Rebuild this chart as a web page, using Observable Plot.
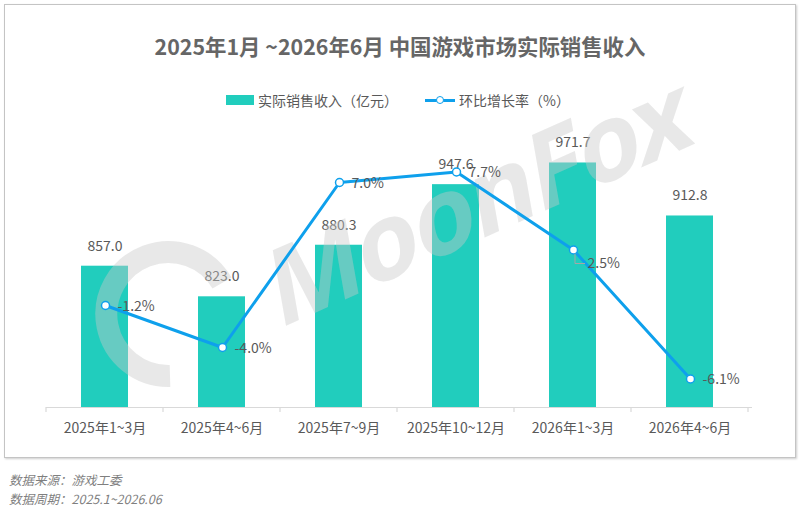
<!DOCTYPE html>
<html><head><meta charset="utf-8">
<script src="https://cdn.jsdelivr.net/npm/d3@7"></script>
<script src="https://cdn.jsdelivr.net/npm/@observablehq/plot@0.6"></script>
<style>
body{margin:0;background:#fff;font-family:"Noto Sans CJK SC","Noto Sans",sans-serif;}
#wrap{position:relative;width:800px;height:513px;overflow:hidden;}
#frame{position:absolute;left:4px;top:4px;width:790px;height:452px;border:1px solid #c4c4c4;box-shadow:1px 1px 2px rgba(0,0,0,0.2);}
#title{position:absolute;left:0;top:32px;width:800px;text-align:center;font-size:21.4px;font-weight:bold;color:#666;line-height:28px;}
#legend{position:absolute;left:0;top:90px;width:574px;padding-left:226px;height:20px;display:flex;justify-content:flex-start;align-items:center;font-size:14px;color:#595959;}
.sw{width:28px;height:10px;background:#21cdbd;margin-right:4px;}
.ln{position:relative;width:30px;height:10px;margin-left:27px;margin-right:4px;}
.ln:before{content:"";position:absolute;left:0;top:4px;width:30px;height:3px;background:#0ea0ec;}
.ln:after{content:"";position:absolute;left:11px;top:1px;width:6px;height:6px;border:1.5px solid #0ea0ec;border-radius:50%;background:#fff;}
.plot{position:absolute;left:0;top:120px;}
#wm{position:absolute;left:478px;top:196px;transform:translate(-50%,-50%) rotate(-24deg) skewX(-14deg);font-family:"Noto Sans",sans-serif;font-weight:bold;font-size:104px;color:rgba(200,200,200,0.42);white-space:nowrap;letter-spacing:-3px;}
#logo{position:absolute;left:0;top:0;}
.ft{position:absolute;left:9px;font-size:12.5px;line-height:16px;color:#7f7f7f;font-style:italic;}
</style></head>
<body><div id="wrap">
<div id="frame"></div>
<div id="title">2025年1月 ~2026年6月 中国游戏市场实际销售收入</div>
<div id="legend"><div class="sw"></div><span>实际销售收入（亿元）</span><div class="ln"></div><span>环比增长率（%）</span></div>
<div id="bars" class="plot"></div>
<svg id="logo" width="800" height="513"><path d="M 222 283 A 62 62 0 1 0 170 376" fill="none" stroke="rgba(200,200,200,0.42)" stroke-width="22"/></svg>
<div id="wm">MoonFox</div>
<div id="line" class="plot"></div>
<div class="ft" style="top:472px">数据来源：游戏工委</div>
<div class="ft" style="top:490.5px">数据周期：2025.1~2026.06</div>
</div>
<script>
const categories = ["2025年1~3月","2025年4~6月","2025年7~9月","2025年10~12月","2026年1~3月","2026年4~6月"];
const revenue = [857.0, 823.0, 880.3, 947.6, 971.7, 912.8];
const growth = [-1.2, -4.0, 7.0, 7.7, 2.5, -6.1];
const revenueDomain = [700, 1000];
const growthDomain = [-8, 10];

const rows = categories.map((c, i) => ({c, v: revenue[i], g: growth[i], i}));
const font = '"Noto Sans CJK SC","Noto Sans",sans-serif';
const base = {
  width: 800, height: 330, marginTop: 17, marginBottom: 43, marginLeft: 46, marginRight: 52,
  x: {domain: categories, paddingInner: 0.6, paddingOuter: 0.3, label: null},
  style: {fontFamily: font, fontSize: "14px", color: "#595959", background: "transparent", overflow: "visible"}
};
const blue = "#0ea0ec";

const bars = Plot.plot({
  ...base,
  y: {domain: revenueDomain, axis: null},
  marks: [
    Plot.barY(rows, {x: "c", y1: () => revenueDomain[0], y2: "v", fill: "#21cdbd"}),
    Plot.ruleY([revenueDomain[0]], {stroke: "#d9d9d9", strokeWidth: 1.2, insetRight: -4}),
    Plot.text(rows, {x: "c", y: "v", text: d => d.v.toFixed(1), dy: -20, fill: "#595959", fontSize: 14}),
    Plot.axisX({tickSize: 0, tickPadding: 16, fontSize: 14, fill: "#595959", label: null})
  ]
});
document.getElementById("bars").append(bars);
// boundary ticks on the category axis, from the band scale
{
  const sx = bars.scale("x"), sy = bars.scale("y");
  const gap = (sx.step - sx.bandwidth) / 2;
  const xs = categories.map(c => sx.apply(c) - gap);
  xs.push(sx.apply(categories[categories.length - 1]) + sx.bandwidth + gap);
  const y0 = sy.apply(revenueDomain[0]);
  d3.select(bars).append("g").selectAll("line").data(xs).join("line")
    .attr("x1", d => d).attr("x2", d => d).attr("y1", y0).attr("y2", y0 + 5)
    .attr("stroke", "#d9d9d9").attr("stroke-width", 1.2);
}

const lbl = d => d.g.toFixed(1) + "%";
const line = Plot.plot({
  ...base,
  y: {domain: growthDomain, axis: null},
  axis: null,
  marks: [
    Plot.lineY(rows, {x: "c", y: "g", stroke: blue, strokeWidth: 3}),
    Plot.dot(rows, {x: "c", y: "g", r: 4, fill: "white", stroke: blue, strokeWidth: 1.5}),
    Plot.text(rows.filter(d => d.i !== 4), {x: "c", y: "g", text: lbl, textAnchor: "start", dx: 12, dy: 1, fill: "#595959", fontSize: 14}),
    Plot.text(rows.filter(d => d.i === 4), {x: "c", y: "g", text: lbl, textAnchor: "start", dx: 14, dy: 14, fill: "#595959", fontSize: 14})
  ]
});
line.querySelectorAll('[aria-label="x-axis tick label"], [aria-label="x-axis tick"]').forEach(n => n.remove());
document.getElementById("line").append(line);
// leader line for the offset 2.5% label
{
  const sx = line.scale("x"), sy = line.scale("y");
  const d = rows[4];
  const px = sx.apply(d.c) + sx.bandwidth / 2, py = sy.apply(d.g);
  d3.select(line).append("path")
    .attr("d", `M${px + 2},${py + 4}L${px + 2},${py + 14}L${px + 12},${py + 14}`)
    .attr("fill", "none").attr("stroke", "#a6a6a6").attr("stroke-width", 1);
}
</script>
</body></html>
